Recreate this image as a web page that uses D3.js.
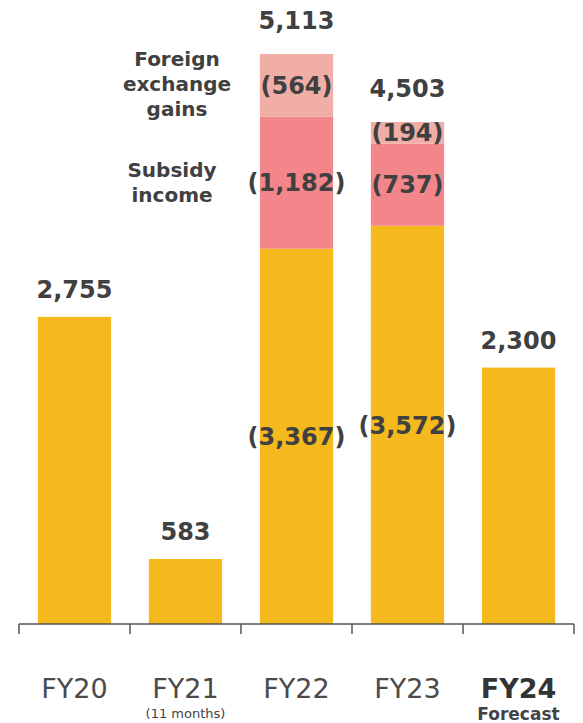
<!DOCTYPE html>
<html>
<head>
<meta charset="utf-8">
<script src="https://cdn.jsdelivr.net/npm/d3@7"></script>
<style>
  html, body { margin: 0; padding: 0; background: #fff; }
  svg { display: block; font-family: "DejaVu Sans", Verdana, sans-serif; }
</style>
</head>
<body>
<svg id="chart" width="583" height="723"></svg>
<script>
// Fiscal years on the x axis
const categories = ["FY20", "FY21", "FY22", "FY23", "FY24"];
const subLabels = ["", "(11 months)", "", "", "Forecast"];
// Core profit (yellow)
const coreValues = [2755, 583, 3367, 3572, 2300];
// One-off items stacked above the core profit
const subsidyValues = [0, 0, 1182, 737, 0];
const fxGainValues = [0, 0, 564, 194, 0];
// Totals shown above each bar
const totals = [2755, 583, 5113, 4503, 2300];

const colors = { core: "#F3B91D", subsidy: "#F3868B", fx: "#F0AEA7" };
const textColor = "#404040";

const svg = d3.select("#chart");
const baseY = 624;

const x = d3.scaleBand().domain(categories).range([19, 574]).paddingInner(0.34).paddingOuter(0.17);
const y = d3.scaleLinear().domain([0, 5113]).range([baseY, 54]);

const fmt = d3.format(",");

// Stack the three components
const rows = categories.map((c, i) => ({ cat: c, core: coreValues[i], subsidy: subsidyValues[i], fx: fxGainValues[i] }));
const stack = d3.stack().keys(["core", "subsidy", "fx"]);
const series = stack(rows);

const g = svg.append("g");
series.forEach(s => {
  g.selectAll(null)
    .data(s.filter(d => d[1] > d[0]))
    .join("rect")
    .attr("x", d => x(d.data.cat))
    .attr("width", x.bandwidth())
    .attr("y", d => y(d[1]))
    .attr("height", d => y(d[0]) - y(d[1]))
    .attr("fill", colors[s.key]);
});

// Segment labels in parentheses, only on stacked bars
series.forEach(s => {
  g.selectAll(null)
    .data(s.filter(d => d.data.subsidy > 0 && d[1] > d[0]))
    .join("text")
    .attr("x", d => x(d.data.cat) + x.bandwidth() / 2)
    .attr("y", d => (y(d[0]) + y(d[1])) / 2)
    .attr("dy", "0.36em")
    .attr("text-anchor", "middle")
    .attr("font-size", 24)
    .attr("font-weight", "bold")
    .attr("fill", textColor)
    .text(d => "(" + fmt(d[1] - d[0]) + ")");
});

// Totals above bars (stacked bars sit a little higher)
g.selectAll(null)
  .data(categories)
  .join("text")
  .attr("x", d => x(d) + x.bandwidth() / 2)
  .attr("y", (d, i) => y(totals[i]) - (subsidyValues[i] > 0 ? 25 : 19))
  .attr("text-anchor", "middle")
  .attr("font-size", 24)
  .attr("font-weight", "bold")
  .attr("fill", textColor)
  .text((d, i) => fmt(totals[i]));

// Legend-style annotations beside the FY22 stack
const ann = [
  { lines: ["Foreign", "exchange", "gains"], cx: 177, y0: 66 },
  { lines: ["Subsidy", "income"], cx: 172, y0: 177 }
];
ann.forEach(a => {
  const t = svg.append("text")
    .attr("text-anchor", "middle")
    .attr("font-size", 20)
    .attr("font-weight", "bold")
    .attr("fill", textColor);
  a.lines.forEach((l, i) => {
    t.append("tspan").attr("x", a.cx).attr("y", a.y0 + i * 25).text(l);
  });
});

// X axis with ticks between categories
const axisG = svg.append("g");
axisG.append("line")
  .attr("x1", 19).attr("x2", 574)
  .attr("y1", baseY).attr("y2", baseY)
  .attr("stroke", "#555").attr("stroke-width", 1.5);
axisG.selectAll(null)
  .data(d3.range(categories.length + 1))
  .join("line")
  .attr("x1", i => 19 + i * (555 / categories.length))
  .attr("x2", i => 19 + i * (555 / categories.length))
  .attr("y1", baseY).attr("y2", baseY + 10)
  .attr("stroke", "#555").attr("stroke-width", 1.5);

// Category labels
axisG.selectAll(null)
  .data(categories)
  .join("text")
  .attr("x", d => x(d) + x.bandwidth() / 2)
  .attr("y", 698)
  .attr("text-anchor", "middle")
  .attr("font-size", 27)
  .attr("font-weight", (d, i) => i === categories.length - 1 ? "bold" : "normal")
  .attr("fill", (d, i) => i === categories.length - 1 ? "#333" : "#4a4a4a")
  .text(d => d);

axisG.selectAll(null)
  .data(categories.filter((d, i) => subLabels[i]))
  .join("text")
  .attr("x", d => x(d) + x.bandwidth() / 2)
  .attr("y", d => subLabels[categories.indexOf(d)] === "Forecast" ? 720 : 718)
  .attr("text-anchor", "middle")
  .attr("font-size", d => subLabels[categories.indexOf(d)] === "Forecast" ? 17 : 13)
  .attr("font-weight", d => subLabels[categories.indexOf(d)] === "Forecast" ? "bold" : "normal")
  .attr("fill", "#444")
  .text(d => subLabels[categories.indexOf(d)]);
</script>
</body>
</html>
